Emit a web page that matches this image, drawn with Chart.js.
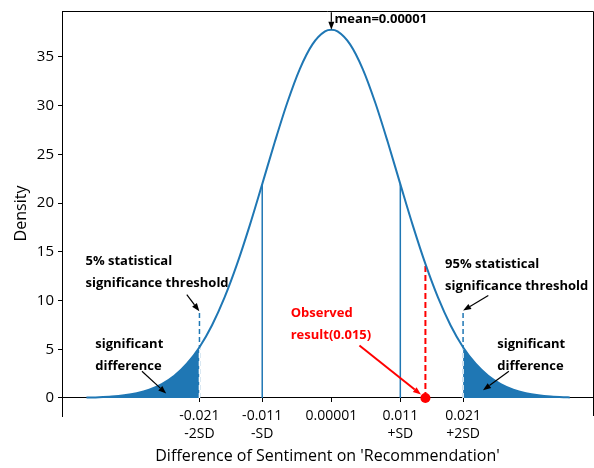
<!DOCTYPE html>
<html>
<head>
<meta charset="UTF-8">
<title>Difference of Sentiment on 'Recommendation'</title>
<script src="https://cdn.jsdelivr.net/npm/chart.js@4"></script>
<style>
body { margin: 0; background: #fff; }
</style>
</head>
<body>
<canvas id="chart" width="594" height="468"></canvas>
<script>
// Density curve sampled along x
const curveX = [-0.039, -0.037, -0.035, -0.033, -0.031, -0.029, -0.027, -0.025, -0.023, -0.021,
                -0.019, -0.017, -0.015, -0.013, -0.011, -0.009, -0.007, -0.005, -0.003, -0.001,
                0.00001,
                0.001, 0.003, 0.005, 0.007, 0.009, 0.011, 0.013, 0.015, 0.017, 0.019,
                0.021, 0.023, 0.025, 0.027, 0.029, 0.031, 0.033, 0.035, 0.037, 0.038];
const curveY = [0.04, 0.08, 0.15, 0.28, 0.50, 0.86, 1.43, 2.28, 3.51, 5.21,
                7.47, 10.32, 13.76, 17.69, 21.95, 26.27, 30.33, 33.79, 36.30, 37.63,
                37.80,
                37.63, 36.30, 33.79, 30.33, 26.27, 21.95, 17.69, 13.76, 10.32, 7.47,
                5.21, 3.51, 2.28, 1.43, 0.86, 0.50, 0.28, 0.15, 0.08, 0.06];

// Axis ticks
const xTickValues = [-0.021, -0.011, 0.00001, 0.011, 0.021];
const xTickLabels = ['-0.021', '-0.011', '0.00001', '0.011', '0.021'];
const xTickSd     = ['-2SD', '-SD', '', '+SD', '+2SD'];
const yTickValues = [0, 5, 10, 15, 20, 25, 30, 35];

// Markers
const meanValue     = 0.00001;
const sdLines       = [-0.011, 0.011];
const thresholds    = [-0.021, 0.021];
const thresholdTop  = 9.0;
const observedValue = 0.015;

const BLUE = '#1f77b4';
const RED  = '#ff0000';
const FONT = '"Open Sans", "Noto Sans", sans-serif';

const densityAt = (x) => curveY[curveX.indexOf(x)];
const points    = curveX.map((x, i) => ({x: x, y: curveY[i]}));
const segment   = (x, y0, y1) => [{x: x, y: y0}, {x: x, y: y1}];

const lineSet = (data, color, width, dash, order) => ({
    data: data,
    borderColor: color,
    borderWidth: width,
    borderDash: dash,
    pointRadius: 0,
    fill: false,
    order: order
});

const datasets = [
    // main curve
    {...lineSet(points, BLUE, 2, [], 1), cubicInterpolationMode: 'monotone'},
    // shaded tails
    {
        data: points.filter((p) => p.x <= thresholds[0]),
        borderWidth: 0,
        pointRadius: 0,
        backgroundColor: BLUE,
        fill: 'origin',
        cubicInterpolationMode: 'monotone',
        order: 3
    },
    {
        data: points.filter((p) => p.x >= thresholds[1]),
        borderWidth: 0,
        pointRadius: 0,
        backgroundColor: BLUE,
        fill: 'origin',
        cubicInterpolationMode: 'monotone',
        order: 3
    },
    // threshold lines: blue dashes above the tail, white dashes inside it
    ...thresholds.map((t) => lineSet(segment(t, 0, thresholdTop), BLUE, 1.5, [5, 3], 4)),
    ...thresholds.map((t) => lineSet(segment(t, 0, densityAt(t)), '#ffffff', 1.5, [5, 3], 2)),
    // +/- SD lines
    ...sdLines.map((s) => lineSet(segment(s, 0, densityAt(s)), BLUE, 1.5, [], 2)),
    // observed result
    lineSet(segment(observedValue, 0, densityAt(observedValue)), RED, 2, [6, 3], 2),
    {
        data: [{x: observedValue, y: 0}],
        showLine: false,
        pointRadius: 5,
        pointBackgroundColor: RED,
        pointBorderWidth: 0,
        order: 0,
        clip: false
    }
];

// Text notes: position of first line (left edge, line centre) in data units
const notes = [
    {lines: ['mean=0.00001'], x: 0.00053, y: 38.9, color: '#000',
     arrow: {from: [meanValue, 39.6], to: [meanValue, 37.8]}},
    {lines: ['5% statistical', 'significance threshold'], x: -0.03916, y: 14.03, color: '#000',
     arrow: {from: [-0.02302, 10.61], to: [-0.02102, 8.9]}},
    {lines: ['significant', 'difference'], x: -0.0376, y: 5.48, color: '#000',
     arrow: {from: [-0.03016, 2.74], to: [-0.0263, 0.45]}},
    {lines: ['95% statistical', 'significance threshold'], x: 0.01814, y: 13.69, color: '#000',
     arrow: {from: [0.02502, 10.51], to: [0.0210, 8.97]}},
    {lines: ['significant', 'difference'], x: 0.02644, y: 5.48, color: '#000',
     arrow: {from: [0.0283, 2.74], to: [0.02417, 0.79]}},
    {lines: ['Observed', 'result(0.015)'], x: -0.00646, y: 8.66, color: RED, width: 2,
     arrow: {from: [0.00449, 5.38], to: [0.01429, 0.35]}}
];

const drawArrow = (ctx, x1, y1, x2, y2, color, width) => {
    const ang  = Math.atan2(y2 - y1, x2 - x1);
    const head = 8;
    const half = 3;
    const bx   = x2 - head * Math.cos(ang);
    const by   = y2 - head * Math.sin(ang);
    ctx.strokeStyle = color;
    ctx.fillStyle   = color;
    ctx.lineWidth   = width;
    ctx.beginPath();
    ctx.moveTo(x1, y1);
    ctx.lineTo(bx, by);
    ctx.stroke();
    ctx.beginPath();
    ctx.moveTo(x2, y2);
    ctx.lineTo(bx + half * Math.sin(ang), by - half * Math.cos(ang));
    ctx.lineTo(bx - half * Math.sin(ang), by + half * Math.cos(ang));
    ctx.closePath();
    ctx.fill();
};

const notesPlugin = {
    id: 'notes',
    afterDatasetsDraw(chart) {
        const {ctx, scales: {x, y}} = chart;
        ctx.save();
        ctx.font         = 'bold 13px ' + FONT;
        ctx.textBaseline = 'middle';
        ctx.textAlign    = 'left';
        notes.forEach((n) => {
            ctx.fillStyle = n.color;
            const px = x.getPixelForValue(n.x);
            const py = y.getPixelForValue(n.y);
            n.lines.forEach((line, i) => ctx.fillText(line, px, py + i * 22));
            const a = n.arrow;
            drawArrow(ctx,
                x.getPixelForValue(a.from[0]), y.getPixelForValue(a.from[1]),
                x.getPixelForValue(a.to[0]), y.getPixelForValue(a.to[1]),
                n.color, n.width || 1.2);
        });
        ctx.restore();
    }
};

// top and right sides of the frame
const framePlugin = {
    id: 'frame',
    afterDraw(chart) {
        const {ctx, chartArea: a} = chart;
        ctx.save();
        ctx.strokeStyle = '#000';
        ctx.lineWidth   = 1;
        ctx.beginPath();
        ctx.moveTo(a.left, a.top + 0.5);
        ctx.lineTo(a.right + 0.5, a.top + 0.5);
        ctx.lineTo(a.right + 0.5, a.bottom);
        ctx.stroke();
        ctx.restore();
    }
};

// keep tick label overhang from pushing the plot area inwards
const noOverhang = (s) => {
    s.paddingLeft   = 0;
    s.paddingRight  = 0;
    s.paddingTop    = 0;
    s.paddingBottom = 0;
};

new Chart(document.getElementById('chart'), {
    type: 'line',
    data: {datasets: datasets},
    options: {
        responsive: false,
        animation: false,
        devicePixelRatio: 1,
        layout: {autoPadding: false, padding: {left: 0, right: 1, top: 11, bottom: 52}},
        plugins: {legend: {display: false}, tooltip: {enabled: false}},
        scales: {
            x: {
                type: 'linear',
                position: {y: 0},
                min: -0.0429,
                max: 0.0417,
                afterBuildTicks: (s) => { s.ticks = xTickValues.map((v) => ({value: v})); },
                afterFit: noOverhang,
                ticks: {
                    autoSkip: false,
                    maxRotation: 0,
                    padding: 5,
                    color: '#000',
                    font: {family: FONT, size: 14, lineHeight: 1.27},
                    callback: (v, i) => xTickSd[i] ? [xTickLabels[i], xTickSd[i]] : xTickLabels[i]
                },
                grid: {drawOnChartArea: false, drawTicks: true, tickLength: 4, color: '#000'},
                border: {display: true, color: '#000', width: 1},
                title: {
                    display: true,
                    text: "Difference of Sentiment on 'Recommendation'",
                    color: '#000',
                    font: {family: FONT, size: 16, lineHeight: 1.1},
                    padding: {top: 0, bottom: 0}
                }
            },
            y: {
                type: 'linear',
                min: -1.85,
                max: 39.72,
                afterBuildTicks: (s) => { s.ticks = yTickValues.map((v) => ({value: v})); },
                afterFit: (s) => {
                    noOverhang(s);
                    s.width = 62;
                },
                ticks: {padding: 4, color: '#000', font: {family: FONT, size: 15}},
                grid: {drawOnChartArea: false, drawTicks: true, tickLength: 4, color: '#000'},
                border: {display: true, color: '#000', width: 1},
                title: {
                    display: true,
                    text: 'Density',
                    color: '#000',
                    font: {family: FONT, size: 16},
                    padding: {top: 12, bottom: 0}
                }
            }
        }
    },
    plugins: [notesPlugin, framePlugin]
});
</script>
</body>
</html>
